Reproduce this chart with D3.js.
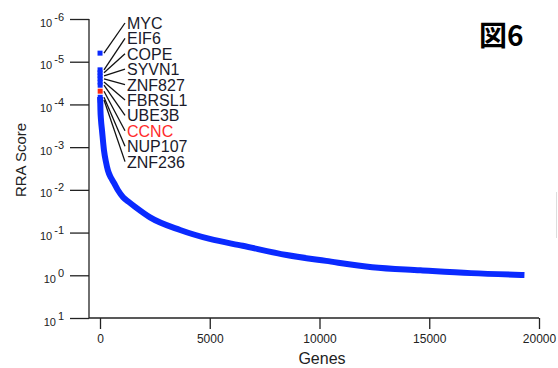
<!DOCTYPE html>
<html>
<head>
<meta charset="utf-8">
<script src="https://cdn.jsdelivr.net/npm/d3@7"></script>
<style>
  body { margin: 0; background: #fff; }
  svg { display: block; font-family: "Liberation Sans", Arial, sans-serif; }
</style>
</head>
<body>
<div id="chart"></div>
<script>
// top 10 ranked genes (rank 1..10) and their RRA scores
var topGenes = ["MYC", "EIF6", "COPE", "SYVN1", "ZNF827", "FBRSL1", "UBE3B", "CCNC", "NUP107", "ZNF236"];
var topScores = [6.3e-6, 1.55e-5, 1.82e-5, 2.14e-5, 2.51e-5, 3.0e-5, 3.55e-5, 4.9e-5, 6.8e-5, 7.9e-5];
var highlight = "CCNC";

// rest of the ranked curve
var curveRanks = [10, 20, 45, 90, 180, 270, 360, 500, 640, 820, 1050, 1300, 1600, 2280, 3650, 5000, 6500, 8500, 10300, 12400, 14600, 16900, 19200];
var curveScores = [7.9e-5, 1.35e-4, 2.3e-4, 4.0e-4, 1.17e-3, 2.2e-3, 3.5e-3, 5.2e-3, 6.9e-3, 0.0102, 0.0148, 0.019, 0.025, 0.044, 0.087, 0.141, 0.204, 0.336, 0.46, 0.645, 0.76, 0.89, 0.98];

var xTicks = [0, 5000, 10000, 15000, 20000];
var yExponents = [-6, -5, -4, -3, -2, -1, 0, 1];

var width = 558,
    height = 368;

var svg = d3.select("#chart").append("svg")
    .attr("width", width)
    .attr("height", height);

var x = d3.scaleLinear()
    .domain([0, 20000])
    .range([100, 539]);

var y = d3.scaleLog()
    .domain([1e-6, 10])
    .range([19, 318]);

var axisColor = "#222";

// Y axis
var yAxis = svg.append("g")
    .attr("transform", "translate(89,0)")
    .call(d3.axisLeft(y)
      .tickValues(yExponents.map(function(e) { return Math.pow(10, e); }))
      .tickSize(19)
      .tickSizeOuter(0)
      .tickFormat(""));
yAxis.select(".domain").remove();
yAxis.selectAll("line").attr("stroke", axisColor).attr("stroke-width", 1.3);

svg.append("line")
    .attr("x1", 89).attr("x2", 89)
    .attr("y1", y(1e-6)).attr("y2", y(10))
    .attr("stroke", axisColor).attr("stroke-width", 1.3);

var yLab = svg.append("g").selectAll("text")
    .data(yExponents)
    .enter().append("text")
      .attr("x", 64)
      .attr("y", function(d) { return y(Math.pow(10, d)) + 7.5; })
      .attr("text-anchor", "end")
      .attr("font-size", 11)
      .attr("fill", axisColor);
yLab.append("tspan").text("10");
yLab.append("tspan")
    .attr("dx", 2)
    .attr("dy", -6)
    .text(function(d) { return d; });

// X axis
var xAxis = svg.append("g")
    .attr("transform", "translate(0,318)")
    .call(d3.axisBottom(x)
      .tickValues(xTicks)
      .tickSize(11)
      .tickSizeOuter(0)
      .tickFormat(d3.format("d")));
xAxis.select(".domain").remove();
xAxis.selectAll("line").attr("stroke", axisColor).attr("stroke-width", 1.3);
xAxis.selectAll("text")
    .attr("y", 25)
    .attr("dy", 0)
    .attr("font-size", 12)
    .attr("font-family", "Liberation Sans, Arial, sans-serif")
    .attr("fill", axisColor);

svg.append("line")
    .attr("x1", 89).attr("x2", x(20000))
    .attr("y1", 318).attr("y2", 318)
    .attr("stroke", axisColor).attr("stroke-width", 1.3);

// axis titles
svg.append("text")
    .attr("x", 322)
    .attr("y", 364)
    .attr("text-anchor", "middle")
    .attr("font-size", 16)
    .attr("fill", axisColor)
    .text("Genes");

svg.append("text")
    .attr("transform", "translate(26,160) rotate(-90)")
    .attr("text-anchor", "middle")
    .attr("font-size", 15)
    .attr("fill", axisColor)
    .text("RRA Score");

// the ranked curve
var line = d3.line()
    .curve(d3.curveMonotoneX)
    .x(function(d) { return x(d[0]); })
    .y(function(d) { return y(d[1]); });

svg.append("path")
    .datum(curveRanks.map(function(r, i) { return [r, curveScores[i]]; }))
    .attr("d", line)
    .attr("fill", "none")
    .attr("stroke", "#0a2aff")
    .attr("stroke-width", 6)
    .attr("stroke-linejoin", "round")
    .attr("stroke-linecap", "square");

// top genes as squares
var sq = 5;
svg.append("g").selectAll("rect")
    .data(topScores)
    .enter().append("rect")
      .attr("x", function(d, i) { return x(i + 1) - sq / 2; })
      .attr("y", function(d) { return y(d) - sq / 2; })
      .attr("width", sq)
      .attr("height", sq)
      .attr("fill", function(d, i) { return topGenes[i] === highlight ? "#ff2a10" : "#0a2aff"; });

// labels with leader lines
var labelX = 127,
    labelTop = 23,
    labelStep = 15.4;

svg.append("g").selectAll("line")
    .data(topScores)
    .enter().append("line")
      .attr("x1", labelX - 2)
      .attr("y1", function(d, i) { return labelTop + i * labelStep; })
      .attr("x2", 104)
      .attr("y2", function(d) { return y(d); })
      .attr("stroke", "#111")
      .attr("stroke-width", 1.3);

svg.append("g").selectAll("text")
    .data(topGenes)
    .enter().append("text")
      .attr("x", labelX)
      .attr("y", function(d, i) { return labelTop + i * labelStep + 6; })
      .attr("font-size", 16)
      .attr("fill", function(d) { return d === highlight ? "#ff2a2a" : "#1a1a2a"; })
      .text(function(d) { return d; });

// figure number
svg.append("text")
    .attr("x", 479)
    .attr("y", 46)
    .attr("font-family", "Noto Sans CJK JP, sans-serif")
    .attr("font-weight", "bold")
    .attr("font-size", 28)
    .attr("fill", "#000")
    .text("図6");

// faint edge line at right
svg.append("line")
    .attr("x1", 556.5).attr("x2", 556.5)
    .attr("y1", 192).attr("y2", 238)
    .attr("stroke", "#ddd")
    .attr("stroke-width", 1);
</script>
</body>
</html>
